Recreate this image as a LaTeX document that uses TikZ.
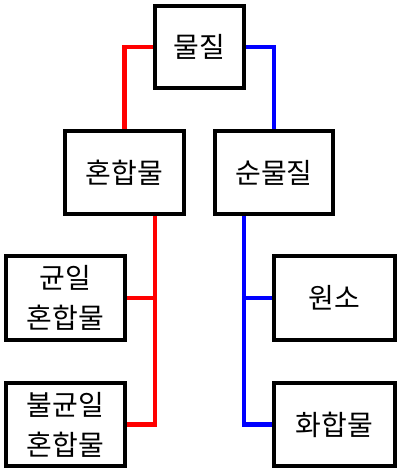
\documentclass[tikz,border=0pt]{standalone}
\usepackage{fontspec}
\setmainfont{Noto Sans CJK KR}
\usetikzlibrary{backgrounds}
\begin{document}
\begin{tikzpicture}[x=1pt,y=-1pt,
  box/.style={draw=black,line width=4.5pt,fill=white,inner sep=0pt,outer sep=0pt,
    font=\fontsize{28}{40}\selectfont,align=center},
  redline/.style={draw=red,line width=4.5pt,line join=miter},
  blueline/.style={draw=blue,line width=4.5pt,line join=miter}]
\useasboundingbox (0,0) rectangle (400,473);
\node[box,minimum width=89pt,minimum height=82pt] (top) at (199.5,47) {물질};
\node[box,minimum width=119pt,minimum height=83pt] (hon) at (124.5,172.5) {혼합물};
\node[box,minimum width=118pt,minimum height=83pt] (sun) at (274,172.5) {순물질};
\node[box,minimum width=119pt,minimum height=84pt] (kyun) at (65.5,298) {균일\\혼합물};
\node[box,minimum width=119pt,minimum height=83pt] (bul) at (65.5,424.5) {불균일\\혼합물};
\node[box,minimum width=121pt,minimum height=84pt] (won) at (334.5,298) {원소};
\node[box,minimum width=121pt,minimum height=83pt] (hwa) at (334.5,424.5) {화합물};
\begin{scope}[on background layer]
\draw[redline] (top.west) -| (hon.north);
\draw[blueline] (top.east) -| (sun.north);
\draw[redline] (hon.south -| top.west) |- (bul.east);
\draw[redline] (kyun.east) -| (hon.south -| top.west);
\draw[blueline] (sun.south -| top.east) |- (hwa.west);
\draw[blueline] (won.west) -| (sun.south -| top.east);
\end{scope}
\end{tikzpicture}
\end{document}
